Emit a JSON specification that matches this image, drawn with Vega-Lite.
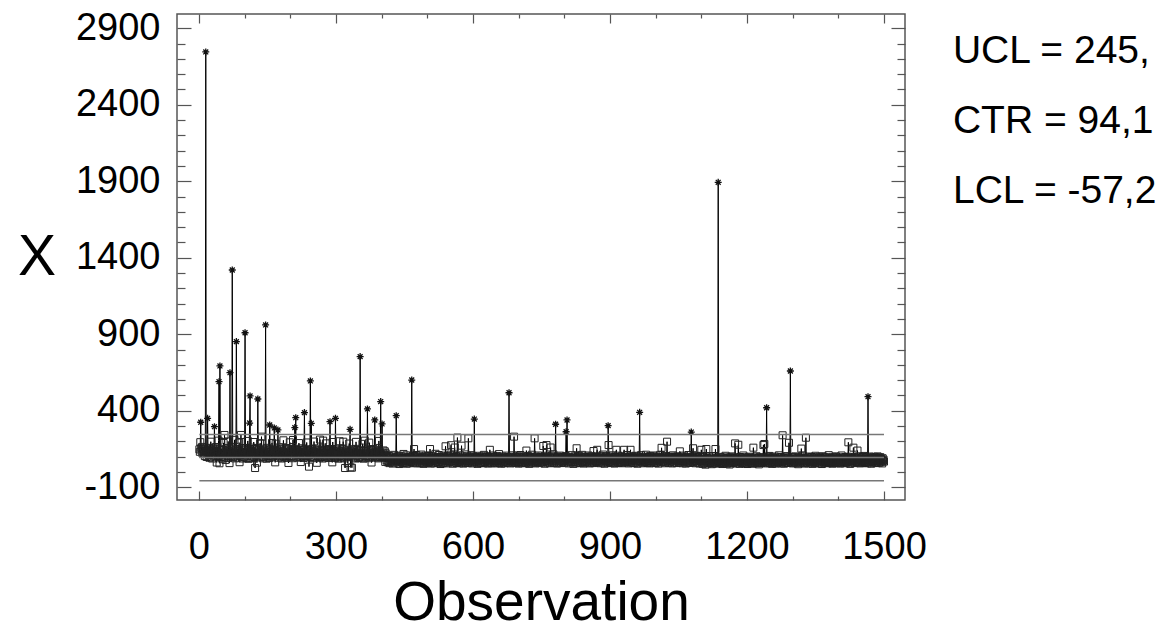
{
"$schema": "https://vega.github.io/schema/vega-lite/v6.json",
"width": 728,
"height": 486,
"autosize": {"type": "none"},
"padding": {"left": 177, "top": 14, "right": 265, "bottom": 132},
"background": "white",
"config": {"view": {"stroke": "#555", "strokeWidth": 1.5}, "font": "Liberation Sans"},
"data": {"values": "o,x\n1,148\n2,132\n3,195\n4,325\n5,156\n6,139\n7,164\n8,121\n9,152\n10,137\n11,118\n12,146\n13,104\n14,129\n15,2745\n16,135\n17,98\n18,142\n19,351\n20,126\n21,111\n22,158\n23,93\n24,137\n25,120\n26,198\n27,101\n28,145\n29,88\n30,131\n31,154\n32,109\n33,140\n34,296\n35,117\n36,96\n37,163\n38,128\n39,62\n40,149\n41,122\n42,105\n43,205\n44,590\n45,57\n46,693\n47,134\n48,99\n49,151\n50,115\n51,87\n52,143\n53,126\n54,190\n55,95\n56,242\n57,118\n58,79\n59,139\n60,108\n61,155\n62,124\n63,91\n64,200\n65,113\n66,136\n67,58\n68,649\n69,127\n70,102\n71,148\n72,119\n73,1320\n74,160\n75,97\n76,133\n77,112\n78,210\n79,89\n80,141\n81,125\n82,852\n83,106\n84,150\n85,94\n86,137\n87,118\n88,192\n89,64\n90,129\n91,110\n92,242\n93,101\n94,146\n95,123\n96,88\n97,157\n98,132\n99,97\n100,140\n101,910\n102,116\n103,153\n104,91\n105,128\n106,107\n107,203\n108,120\n109,86\n110,144\n111,320\n112,497\n113,103\n114,138\n115,121\n116,159\n117,92\n118,131\n119,114\n120,196\n121,98\n122,135\n123,26\n124,149\n125,111\n126,126\n127,61\n128,156\n129,477\n130,119\n131,142\n132,101\n133,127\n134,188\n135,95\n136,118\n137,231\n138,108\n139,136\n140,89\n141,152\n142,124\n143,99\n144,145\n145,113\n146,961\n147,130\n148,87\n149,158\n150,117\n151,104\n152,139\n153,122\n154,91\n155,307\n156,148\n157,110\n158,133\n159,96\n160,190\n161,125\n162,102\n163,143\n164,118\n165,288\n166,137\n167,63\n168,185\n169,129\n170,107\n171,146\n172,114\n173,275\n174,132\n175,93\n176,160\n177,121\n178,100\n179,139\n180,116\n181,88\n182,151\n183,127\n184,105\n185,207\n186,119\n187,97\n188,141\n189,124\n190,110\n191,157\n192,92\n193,134\n194,115\n195,149\n196,59\n197,128\n198,106\n199,194\n200,120\n201,99\n202,143\n203,117\n204,136\n205,90\n206,209\n207,125\n208,108\n209,152\n210,290\n211,131\n212,355\n213,102\n214,147\n215,119\n216,94\n217,138\n218,112\n219,189\n220,97\n221,126\n222,144\n223,65\n224,133\n225,115\n226,155\n227,101\n228,129\n229,92\n230,148\n231,388\n232,120\n233,104\n234,139\n235,111\n236,193\n237,95\n238,127\n239,143\n240,108\n241,35\n242,134\n243,118\n244,595\n245,99\n246,318\n247,123\n248,150\n249,90\n250,137\n251,114\n252,199\n253,96\n254,131\n255,107\n256,145\n257,121\n258,60\n259,153\n260,116\n261,102\n262,140\n263,125\n264,93\n265,212\n266,112\n267,135\n268,98\n269,147\n270,119\n271,88\n272,205\n273,128\n274,106\n275,142\n276,117\n277,95\n278,187\n279,124\n280,101\n281,139\n282,113\n283,150\n284,91\n285,127\n286,109\n287,329\n288,132\n289,97\n290,144\n291,120\n292,63\n293,196\n294,115\n295,103\n296,137\n297,124\n298,92\n299,351\n300,110\n301,131\n302,148\n303,99\n304,122\n305,87\n306,141\n307,114\n308,201\n309,105\n310,128\n311,94\n312,136\n313,118\n314,152\n315,101\n316,198\n317,125\n318,89\n319,140\n320,26\n321,112\n322,133\n323,97\n324,146\n325,119\n326,58\n327,131\n328,108\n329,186\n330,123\n331,279\n332,30\n333,138\n334,110\n335,28\n336,127\n337,149\n338,95\n339,116\n340,142\n341,102\n342,130\n343,88\n344,197\n345,121\n346,106\n347,144\n348,113\n349,91\n350,135\n351,118\n352,99\n353,754\n354,126\n355,141\n356,93\n357,110\n358,184\n359,120\n360,87\n361,137\n362,115\n363,205\n364,104\n365,128\n366,96\n367,147\n368,122\n369,412\n370,109\n371,134\n372,90\n373,192\n374,117\n375,101\n376,143\n377,125\n378,62\n379,139\n380,112\n381,97\n382,150\n383,121\n384,108\n385,340\n386,130\n387,94\n388,145\n389,116\n390,103\n391,138\n392,124\n393,89\n394,203\n395,111\n396,132\n397,98\n398,460\n399,119\n400,105\n401,314\n402,127\n403,93\n404,141\n405,114\n406,100\n407,135\n408,66\n409,122\n410,109\n411,76\n412,98\n413,64\n414,89\n415,71\n416,105\n417,58\n418,93\n419,80\n420,67\n421,101\n422,74\n423,86\n424,55\n425,95\n426,69\n427,112\n428,78\n429,61\n430,90\n431,83\n432,368\n433,72\n434,99\n435,63\n436,87\n437,107\n438,75\n439,52\n440,94\n441,81\n442,66\n443,103\n444,70\n445,91\n446,59\n447,85\n448,118\n449,73\n450,96\n451,62\n452,88\n453,77\n454,109\n455,54\n456,92\n457,68\n458,84\n459,100\n460,71\n461,57\n462,97\n463,79\n464,65\n465,93\n466,601\n467,74\n468,104\n469,60\n470,86\n471,150\n472,70\n473,95\n474,63\n475,82\n476,111\n477,56\n478,89\n479,76\n480,99\n481,67\n482,85\n483,102\n484,58\n485,91\n486,73\n487,114\n488,80\n489,61\n490,94\n491,78\n492,53\n493,97\n494,69\n495,87\n496,106\n497,64\n498,83\n499,72\n500,100\n501,59\n502,92\n503,76\n504,108\n505,66\n506,150\n507,81\n508,55\n509,96\n510,71\n511,88\n512,62\n513,103\n514,77\n515,93\n516,57\n517,84\n518,119\n519,68\n520,90\n521,74\n522,98\n523,60\n524,86\n525,111\n526,65\n527,95\n528,79\n529,52\n530,89\n531,101\n532,70\n533,83\n534,58\n535,97\n536,75\n537,107\n538,63\n539,92\n540,168\n541,80\n542,56\n543,94\n544,72\n545,105\n546,61\n547,87\n548,99\n549,67\n550,82\n551,113\n552,175\n553,69\n554,91\n555,76\n556,54\n557,98\n558,85\n559,62\n560,160\n561,93\n562,71\n563,104\n564,59\n565,88\n566,225\n567,66\n568,96\n569,79\n570,57\n571,90\n572,109\n573,73\n574,84\n575,172\n576,63\n577,101\n578,77\n579,55\n580,92\n581,68\n582,86\n583,115\n584,60\n585,95\n586,74\n587,82\n588,103\n589,58\n590,220\n591,87\n592,71\n593,99\n594,64\n595,92\n596,78\n597,110\n598,56\n599,89\n600,75\n601,102\n602,61\n603,346\n604,84\n605,70\n606,97\n607,66\n608,93\n609,80\n610,53\n611,96\n612,73\n613,88\n614,106\n615,59\n616,91\n617,77\n618,62\n619,100\n620,85\n621,69\n622,94\n623,57\n624,112\n625,81\n626,65\n627,98\n628,74\n629,89\n630,60\n631,103\n632,78\n633,55\n634,92\n635,71\n636,86\n637,145\n638,67\n639,95\n640,79\n641,58\n642,99\n643,83\n644,108\n645,64\n646,90\n647,72\n648,56\n649,97\n650,76\n651,87\n652,62\n653,104\n654,80\n655,68\n656,93\n657,117\n658,59\n659,85\n660,73\n661,96\n662,54\n663,89\n664,77\n665,101\n666,66\n667,91\n668,70\n669,57\n670,94\n671,82\n672,107\n673,63\n674,88\n675,75\n676,98\n677,60\n678,86\n679,518\n680,71\n681,92\n682,56\n683,100\n684,79\n685,67\n686,95\n687,73\n688,109\n689,61\n690,231\n691,84\n692,70\n693,97\n694,58\n695,90\n696,76\n697,103\n698,65\n699,87\n700,55\n701,99\n702,74\n703,83\n704,111\n705,62\n706,93\n707,78\n708,57\n709,96\n710,69\n711,88\n712,102\n713,64\n714,85\n715,72\n716,59\n717,140\n718,81\n719,94\n720,67\n721,105\n722,76\n723,53\n724,91\n725,70\n726,98\n727,63\n728,86\n729,113\n730,77\n731,60\n732,94\n733,82\n734,68\n735,220\n736,89\n737,56\n738,101\n739,74\n740,92\n741,65\n742,87\n743,108\n744,71\n745,97\n746,58\n747,84\n748,79\n749,100\n750,62\n751,93\n752,75\n753,88\n754,170\n755,66\n756,96\n757,54\n758,83\n759,106\n760,72\n761,176\n762,91\n763,61\n764,85\n765,99\n766,68\n767,77\n768,57\n769,94\n770,160\n771,80\n772,103\n773,64\n774,90\n775,73\n776,115\n777,59\n778,87\n779,69\n780,97\n781,312\n782,76\n783,92\n784,55\n785,84\n786,101\n787,70\n788,95\n789,63\n790,88\n791,107\n792,74\n793,58\n794,93\n795,81\n796,66\n797,98\n798,72\n799,89\n800,60\n801,96\n802,78\n803,104\n804,263\n805,85\n806,340\n807,67\n808,91\n809,56\n810,82\n811,99\n812,71\n813,87\n814,62\n815,110\n816,76\n817,94\n818,65\n819,83\n820,53\n821,92\n822,79\n823,102\n824,68\n825,88\n826,57\n827,155\n828,74\n829,97\n830,63\n831,86\n832,105\n833,70\n834,91\n835,59\n836,80\n837,96\n838,73\n839,112\n840,66\n841,89\n842,55\n843,94\n844,77\n845,101\n846,64\n847,85\n848,98\n849,71\n850,60\n851,93\n852,82\n853,108\n854,67\n855,79\n856,56\n857,95\n858,74\n859,88\n860,103\n861,62\n862,90\n863,76\n864,137\n865,99\n866,58\n867,84\n868,70\n869,96\n870,65\n871,87\n872,145\n873,73\n874,92\n875,61\n876,81\n877,106\n878,69\n879,94\n880,57\n881,100\n882,75\n883,86\n884,63\n885,114\n886,78\n887,91\n888,54\n889,83\n890,97\n891,68\n892,104\n893,72\n894,88\n895,60\n896,303\n897,176\n898,95\n899,66\n900,80\n901,93\n902,58\n903,101\n904,74\n905,85\n906,109\n907,62\n908,90\n909,77\n910,55\n911,98\n912,71\n913,84\n914,145\n915,64\n916,92\n917,79\n918,107\n919,59\n920,87\n921,73\n922,96\n923,66\n924,83\n925,102\n926,57\n927,89\n928,76\n929,94\n930,68\n931,145\n932,81\n933,61\n934,99\n935,72\n936,86\n937,111\n938,65\n939,91\n940,78\n941,56\n942,95\n943,84\n944,70\n945,145\n946,63\n947,88\n948,103\n949,74\n950,60\n951,97\n952,79\n953,92\n954,58\n955,85\n956,106\n957,69\n958,90\n959,75\n960,54\n961,101\n962,67\n963,87\n964,94\n965,390\n966,72\n967,83\n968,110\n969,62\n970,96\n971,78\n972,57\n973,91\n974,73\n975,100\n976,65\n977,86\n978,81\n979,113\n980,69\n981,93\n982,59\n983,84\n984,98\n985,71\n986,89\n987,56\n988,104\n989,76\n990,64\n991,88\n992,95\n993,70\n994,82\n995,108\n996,61\n997,90\n998,74\n999,97\n1000,58\n1001,83\n1002,102\n1003,67\n1004,92\n1005,78\n1006,55\n1007,96\n1008,72\n1009,87\n1010,112\n1011,63\n1012,91\n1013,158\n1014,80\n1015,99\n1016,66\n1017,85\n1018,75\n1019,94\n1020,57\n1021,89\n1022,105\n1023,69\n1024,93\n1025,198\n1026,71\n1027,82\n1028,60\n1029,97\n1030,76\n1031,101\n1032,64\n1033,88\n1034,79\n1035,95\n1036,56\n1037,86\n1038,109\n1039,70\n1040,92\n1041,62\n1042,83\n1043,98\n1044,74\n1045,90\n1046,58\n1047,103\n1048,77\n1049,87\n1050,67\n1051,96\n1052,81\n1053,135\n1054,61\n1055,93\n1056,72\n1057,85\n1058,100\n1059,57\n1060,89\n1061,75\n1062,107\n1063,66\n1064,94\n1065,80\n1066,55\n1067,91\n1068,73\n1069,99\n1070,63\n1071,86\n1072,111\n1073,70\n1074,95\n1075,59\n1076,84\n1077,78\n1078,261\n1079,68\n1080,92\n1081,101\n1082,155\n1083,64\n1084,88\n1085,74\n1086,97\n1087,57\n1088,83\n1089,106\n1090,71\n1091,90\n1092,62\n1093,96\n1094,79\n1095,87\n1096,56\n1097,103\n1098,73\n1099,85\n1100,145\n1101,64\n1102,88\n1103,53\n1104,79\n1105,97\n1106,60\n1107,72\n1108,85\n1109,48\n1110,76\n1111,150\n1112,67\n1113,91\n1114,56\n1115,82\n1116,70\n1117,101\n1118,59\n1119,87\n1120,63\n1121,75\n1122,94\n1123,51\n1124,80\n1125,68\n1126,104\n1127,57\n1128,86\n1129,73\n1130,62\n1131,150\n1132,78\n1133,55\n1134,92\n1135,66\n1136,84\n1137,1893\n1138,71\n1139,58\n1140,89\n1141,74\n1142,99\n1143,61\n1144,83\n1145,69\n1146,52\n1147,95\n1148,77\n1149,64\n1150,87\n1151,58\n1152,81\n1153,106\n1154,67\n1155,90\n1156,54\n1157,76\n1158,93\n1159,63\n1160,72\n1161,85\n1162,49\n1163,97\n1164,70\n1165,79\n1166,60\n1167,88\n1168,102\n1169,57\n1170,74\n1171,91\n1172,65\n1173,83\n1174,187\n1175,71\n1176,56\n1177,94\n1178,68\n1179,80\n1180,62\n1181,178\n1182,75\n1183,86\n1184,53\n1185,98\n1186,66\n1187,78\n1188,90\n1189,59\n1190,73\n1191,84\n1192,108\n1193,61\n1194,77\n1195,93\n1196,55\n1197,70\n1198,87\n1199,64\n1200,96\n1201,52\n1202,81\n1203,73\n1204,100\n1205,67\n1206,89\n1207,58\n1208,76\n1209,92\n1210,63\n1211,85\n1212,71\n1213,54\n1214,159\n1215,79\n1216,95\n1217,60\n1218,74\n1219,88\n1220,66\n1221,103\n1222,57\n1223,82\n1224,69\n1225,91\n1226,50\n1227,78\n1228,97\n1229,62\n1230,86\n1231,72\n1232,59\n1233,94\n1234,68\n1235,81\n1236,176\n1237,65\n1238,183\n1239,75\n1240,90\n1241,56\n1242,87\n1243,420\n1244,70\n1245,99\n1246,61\n1247,83\n1248,73\n1249,105\n1250,58\n1251,79\n1252,92\n1253,64\n1254,86\n1255,53\n1256,77\n1257,96\n1258,67\n1259,84\n1260,60\n1261,101\n1262,74\n1263,89\n1264,55\n1265,80\n1266,68\n1267,93\n1268,62\n1269,76\n1270,109\n1271,63\n1272,85\n1273,71\n1274,98\n1275,57\n1276,82\n1277,66\n1278,240\n1279,75\n1280,91\n1281,54\n1282,88\n1283,72\n1284,96\n1285,61\n1286,79\n1287,104\n1288,67\n1289,86\n1290,59\n1291,93\n1292,191\n1293,77\n1294,70\n1295,660\n1296,84\n1297,62\n1298,99\n1299,73\n1300,56\n1301,87\n1302,95\n1303,64\n1304,80\n1305,69\n1306,102\n1307,58\n1308,76\n1309,90\n1310,66\n1311,83\n1312,51\n1313,97\n1314,72\n1315,88\n1316,61\n1317,78\n1318,94\n1319,153\n1320,68\n1321,85\n1322,107\n1323,60\n1324,74\n1325,92\n1326,55\n1327,81\n1328,70\n1329,224\n1330,63\n1331,96\n1332,77\n1333,86\n1334,57\n1335,90\n1336,67\n1337,101\n1338,73\n1339,62\n1340,84\n1341,71\n1342,98\n1343,53\n1344,79\n1345,88\n1346,65\n1347,93\n1348,75\n1349,58\n1350,106\n1351,69\n1352,82\n1353,61\n1354,95\n1355,74\n1356,87\n1357,56\n1358,80\n1359,99\n1360,64\n1361,91\n1362,72\n1363,84\n1364,52\n1365,78\n1366,103\n1367,66\n1368,89\n1369,60\n1370,76\n1371,97\n1372,63\n1373,85\n1374,70\n1375,94\n1376,57\n1377,81\n1378,68\n1379,110\n1380,73\n1381,59\n1382,88\n1383,76\n1384,92\n1385,65\n1386,83\n1387,54\n1388,99\n1389,71\n1390,86\n1391,62\n1392,95\n1393,79\n1394,67\n1395,102\n1396,58\n1397,87\n1398,74\n1399,90\n1400,61\n1401,84\n1402,69\n1403,96\n1404,55\n1405,80\n1406,73\n1407,108\n1408,63\n1409,89\n1410,77\n1411,66\n1412,93\n1413,57\n1414,82\n1415,71\n1416,98\n1417,60\n1418,86\n1419,75\n1420,68\n1421,100\n1422,194\n1423,64\n1424,91\n1425,78\n1426,53\n1427,88\n1428,72\n1429,95\n1430,61\n1431,85\n1432,70\n1433,159\n1434,81\n1435,97\n1436,58\n1437,76\n1438,92\n1439,66\n1440,83\n1441,74\n1442,140\n1443,62\n1444,89\n1445,103\n1446,67\n1447,79\n1448,56\n1449,94\n1450,71\n1451,87\n1452,60\n1453,98\n1454,73\n1455,84\n1456,65\n1457,105\n1458,77\n1459,59\n1460,90\n1461,68\n1462,82\n1463,96\n1464,57\n1465,492\n1466,75\n1467,88\n1468,63\n1469,101\n1470,70\n1471,79\n1472,54\n1473,93\n1474,84\n1475,66\n1476,91\n1477,72\n1478,99\n1479,61\n1480,86\n1481,74\n1482,95\n1483,58\n1484,88\n1485,67\n1486,102\n1487,76\n1488,83\n1489,60\n1490,92\n1491,71\n1492,97\n1493,64\n1494,85\n1495,78\n1496,56\n1497,90\n1498,73\n1499,81\n1500,68", "format": {"type": "csv", "parse": {"o": "number", "x": "number"}}},
"layer": [
{
"mark": {"type": "line", "color": "#000", "strokeWidth": 1},
"encoding": {
"x": {"field": "o", "type": "quantitative", "scale": {"domain": [-48, 1546], "nice": false, "zero": false},
"axis": {"orient": "bottom", "values": [0,300,600,900,1200,1500], "format": "d", "tickSize": -9, "labelPadding": 37, "domain": false, "grid": false, "tickColor": "#555", "tickWidth": 1.2, "labelFont": "Liberation Sans", "labelFontSize": 38, "labelColor": "#000", "labelFlush": false, "labelOverlap": false, "labelBound": false, "title": "Observation", "titleFont": "Liberation Sans", "titleFontSize": 55, "titleFontWeight": "normal", "titleColor": "#000", "titlePadding": 10}},
"y": {"field": "x", "type": "quantitative", "scale": {"domain": [-183, 2993], "nice": false, "zero": false},
"axis": {"orient": "left", "values": [-100,400,900,1400,1900,2400,2900], "labelExpr": "'' + datum.value", "tickSize": -14, "labelPadding": 31, "domain": false, "grid": false, "tickColor": "#555", "tickWidth": 1.2, "labelFont": "Liberation Sans", "labelFontSize": 38, "labelColor": "#000", "labelOverlap": false, "labelFlush": false, "labelBound": false, "title": "X", "titleAngle": 0, "titleAlign": "right", "titleBaseline": "middle", "titleFont": "Liberation Sans", "titleFontSize": 57, "titleFontWeight": "normal", "titleColor": "#000", "titlePadding": 20}}
}
},
{
"transform": [{"filter": "datum.x <= 245.6"}],
"mark": {"type": "point", "shape": "square", "filled": false, "size": 49, "stroke": "#222", "strokeWidth": 1, "opacity": 1},
"encoding": {
"x": {"field": "o", "type": "quantitative", "scale": {"domain": [-48, 1546], "nice": false, "zero": false},
"axis": {"orient": "top", "values": [0,300,600,900,1200,1500], "labels": false, "tickSize": -9, "domain": false, "grid": false, "tickColor": "#555", "tickWidth": 1.2, "title": null}},
"y": {"field": "x", "type": "quantitative", "scale": {"domain": [-183, 2993], "nice": false, "zero": false},
"axis": {"orient": "right", "values": [-100,400,900,1400,1900,2400,2900], "labels": false, "tickSize": -14, "domain": false, "grid": false, "tickColor": "#555", "tickWidth": 1.2, "title": null}}
}
},
{
"transform": [{"filter": "datum.x > 245.6"}],
"mark": {"type": "point", "shape": "M-1,0L1,0M0,-1L0,1M-0.7,-0.7L0.7,0.7M-0.7,0.7L0.7,-0.7", "filled": false, "size": 49, "stroke": "#111", "strokeWidth": 1.3, "opacity": 1},
"encoding": {
"x": {"field": "o", "type": "quantitative", "scale": {"domain": [-48, 1546], "nice": false, "zero": false},
"axis": {"orient": "bottom", "values": [100,200,400,500,700,800,1000,1100,1300,1400], "labels": false, "tickSize": -4, "domain": false, "grid": false, "tickColor": "#555", "tickWidth": 1.2, "title": null}},
"y": {"field": "x", "type": "quantitative", "scale": {"domain": [-183, 2993], "nice": false, "zero": false},
"axis": {"orient": "left", "values": [0,100,200,300,500,600,700,800,1000,1100,1200,1300,1500,1600,1700,1800,2000,2100,2200,2300,2500,2600,2700,2800], "labels": false, "tickSize": -8, "domain": false, "grid": false, "tickColor": "#555", "tickWidth": 1.2, "title": null}}
}
},
{
"data": {"values": [{"limit": "UCL", "v": 245.6}, {"limit": "CTR", "v": 94.1}, {"limit": "LCL", "v": -57.2}]},
"mark": {"type": "rule", "color": "#777", "strokeWidth": 1.5},
"encoding": {
"x": {"datum": 1, "type": "quantitative", "scale": {"domain": [-48, 1546], "nice": false, "zero": false},
"axis": {"orient": "top", "values": [100,200,400,500,700,800,1000,1100,1300,1400], "labels": false, "tickSize": -4, "domain": false, "grid": false, "tickColor": "#555", "tickWidth": 1.2, "title": null}},
"x2": {"datum": 1500},
"y": {"field": "v", "type": "quantitative", "scale": {"domain": [-183, 2993], "nice": false, "zero": false},
"axis": {"orient": "right", "values": [0,100,200,300,500,600,700,800,1000,1100,1200,1300,1500,1600,1700,1800,2000,2100,2200,2300,2500,2600,2700,2800], "labels": false, "tickSize": -8, "domain": false, "grid": false, "tickColor": "#555", "tickWidth": 1.2, "title": null}}
}
},
{
"data": {"values": [{}]},
"mark": {"type": "text", "align": "left", "baseline": "alphabetic", "font": "Liberation Sans", "fontSize": 39, "color": "#000"},
"encoding": {
"x": {"datum": 1651, "type": "quantitative", "scale": {"domain": [-48, 1546], "nice": false, "zero": false}, "axis": null},
"y": {"datum": 2673, "type": "quantitative", "scale": {"domain": [-183, 2993], "nice": false, "zero": false}, "axis": null},
"text": {"value": "UCL = 245,"}
}
},
{
"data": {"values": [{}]},
"mark": {"type": "text", "align": "left", "baseline": "alphabetic", "font": "Liberation Sans", "fontSize": 39, "color": "#000"},
"encoding": {
"x": {"datum": 1651, "type": "quantitative", "scale": {"domain": [-48, 1546], "nice": false, "zero": false}, "axis": null},
"y": {"datum": 2215, "type": "quantitative", "scale": {"domain": [-183, 2993], "nice": false, "zero": false}, "axis": null},
"text": {"value": "CTR = 94,1"}
}
},
{
"data": {"values": [{}]},
"mark": {"type": "text", "align": "left", "baseline": "alphabetic", "font": "Liberation Sans", "fontSize": 39, "color": "#000"},
"encoding": {
"x": {"datum": 1651, "type": "quantitative", "scale": {"domain": [-48, 1546], "nice": false, "zero": false}, "axis": null},
"y": {"datum": 1758, "type": "quantitative", "scale": {"domain": [-183, 2993], "nice": false, "zero": false}, "axis": null},
"text": {"value": "LCL = -57,2"}
}
}
],
"resolve": {"axis": {"x": "independent", "y": "independent"}}
}
